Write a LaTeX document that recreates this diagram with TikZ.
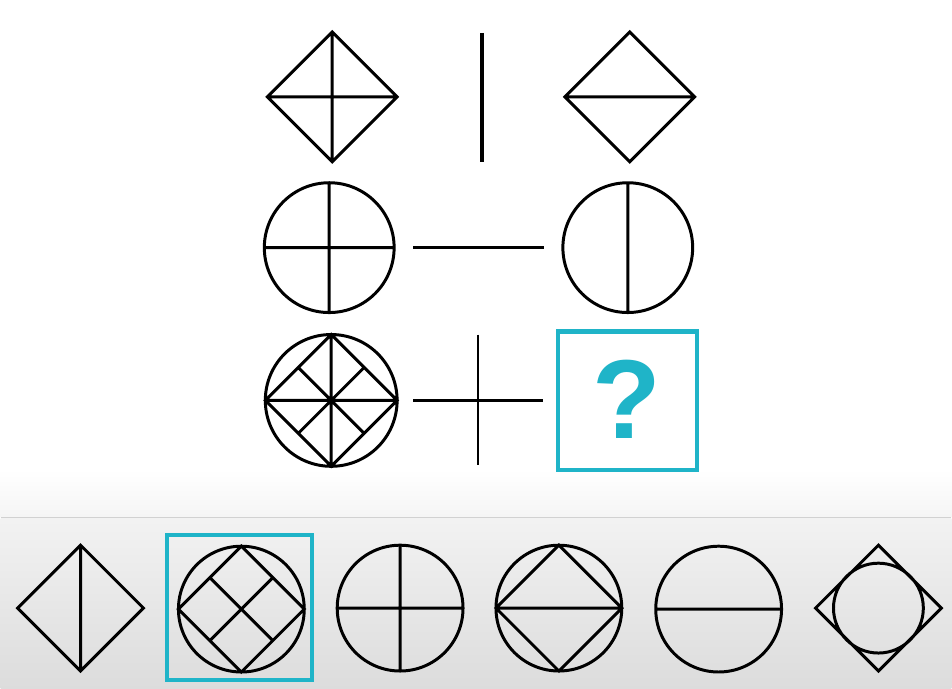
\documentclass[tikz,border=0pt]{standalone}
\usepackage{fontspec}
\setsansfont{Liberation Sans}
\usepackage{tikz}
\usetikzlibrary{calc,shadings}
\definecolor{quizteal}{HTML}{1FB4C8}
\definecolor{panelgray}{HTML}{DCDCDC}
\tikzset{
  figline/.style={black, line width=1.7pt, line join=miter},
  answerbox/.style={draw=quizteal, line width=2.3pt},
  qmark/.style={quizteal, font=\sffamily\bfseries\fontsize{64}{64}\selectfont}
}
\begin{document}
\begin{tikzpicture}[x=0.02cm, y=-0.02cm]
  % background and option panel
  \fill[white] (0,0) rectangle (952,690);
  \shade[top color=white, bottom color=black!4] (0,470) rectangle (952,518);
  \shade[top color=black!5, bottom color=panelgray] (0,519) rectangle (952,690);
  \draw[black!18, line width=0.8pt] (0,518) -- (952,518);
  \useasboundingbox (0,0) rectangle (952,690);

  % row 1
  \draw[figline] (267,97) -- (332,32) -- (397,97) -- (332,162) -- cycle
    (332,32) -- (332,162) (267,97) -- (397,97);
  \draw[figline, line width=2.2pt] (482,33) -- (482,162);
  \draw[figline] (565,97) -- (630,32) -- (695,97) -- (630,162) -- cycle
    (565,97) -- (695,97);

  % row 2
  \draw[figline] (413,248) -- (544,248);
  \draw[figline] (628,248) circle[radius=1.3cm] (628,183) -- (628,313);

  % row 3
  \draw[figline] (331,401) circle[radius=1.32cm]
    (265,401) -- (331,335) -- (397,401) -- (331,467) -- cycle
    (265,401) -- (397,401) (331,335) -- (331,467)
    (298,368) -- (364,434) (364,368) -- (298,434);
  \draw[figline] (413,401) -- (543,401) (478,335) -- (478,466);
  \draw[answerbox, fill=white] (558,332) rectangle (697,471);
  \node[qmark] (ask) at (627,400) {?};

  % circles with a cross
  \foreach \cx/\cy/\r in {329/248/65, 400/609/63}{
    \draw[figline] (\cx,\cy) circle[radius=\r*0.02cm]
      (\cx-\r,\cy) -- (\cx+\r,\cy) (\cx,\cy-\r) -- (\cx,\cy+\r);
  }

  % options
  \draw[figline] (17,609) -- (80,546) -- (143,609) -- (80,672) -- cycle
    (80,546) -- (80,672);
  \draw[answerbox] (167,536) rectangle (312,681);
  \draw[figline] (241,610) circle[radius=1.26cm]
    (178,610) -- (241,547) -- (304,610) -- (241,673) -- cycle
    (209.5,578.5) -- (272.5,641.5) (272.5,578.5) -- (209.5,641.5);
  \draw[figline] (559,609) circle[radius=1.26cm]
    (496,609) -- (559,546) -- (622,609) -- (559,672) -- cycle
    (496,609) -- (622,609);
  \draw[figline] (719,610) circle[radius=1.26cm] (656,610) -- (782,610);
  \draw[figline] (816,609) -- (879,546) -- (942,609) -- (879,672) -- cycle
    (879,609) circle[radius=0.9cm];
\end{tikzpicture}
\end{document}
